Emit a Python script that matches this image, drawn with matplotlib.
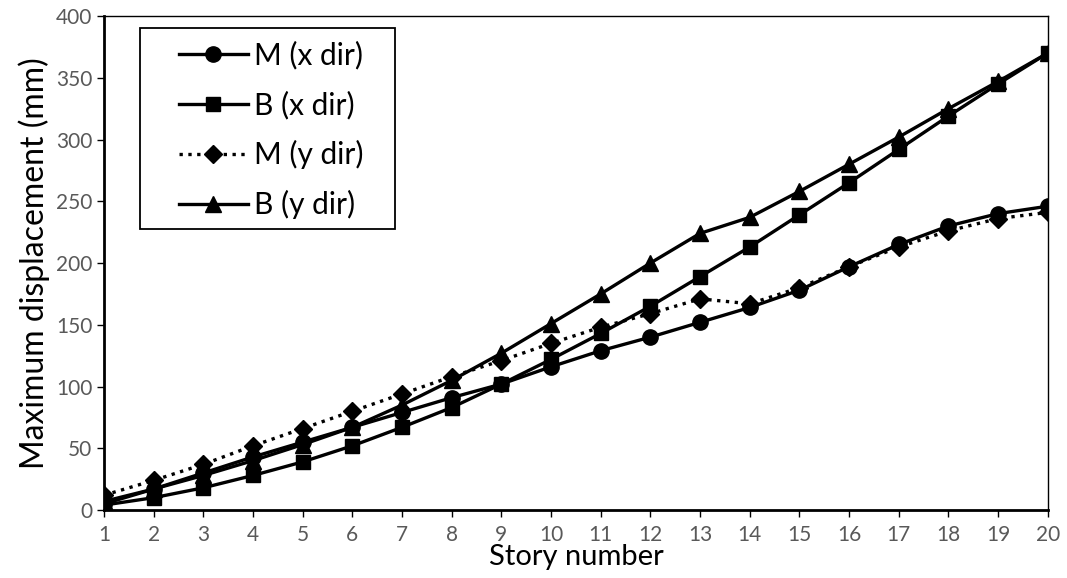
import matplotlib
matplotlib.use("Agg")
import matplotlib.pyplot as plt
from matplotlib.patches import Rectangle

stories = list(range(1, 21))
m_x = [5, 17, 30, 43, 55, 67, 79, 91, 102, 116, 129, 140, 152, 164, 178, 197, 215, 230, 240, 246]
b_x = [4, 10, 18, 28, 39, 52, 67, 83, 102, 122, 143, 165, 189, 213, 239, 265, 292, 319, 345, 370]
m_y = [12, 24, 37, 52, 66, 80, 94, 108, 121, 135, 148, 159, 171, 167, 180, 197, 213, 226, 236, 241]
b_y = [7, 17, 28, 40, 53, 67, 85, 105, 127, 151, 175, 200, 224, 237, 258, 280, 302, 325, 347, 370]
labels = ["M (x dir)", "B (x dir)", "M (y dir)", "B (y dir)"]

plt.rcParams['font.family'] = ['Lato', 'DejaVu Sans']

fig = plt.figure(figsize=(10.67, 5.78), dpi=100)
ax = fig.add_axes([0.0975, 0.1176, 0.8845, 0.8547])

lw = 2.4
ax.plot(stories, m_x, '-', color='black', lw=lw, marker='o', ms=11, label=labels[0])
ax.plot(stories, b_x, '-', color='black', lw=lw, marker='s', ms=10, label=labels[1])
ax.plot(stories, m_y, ':', color='black', lw=lw, marker='D', ms=9.5, label=labels[2])
ax.plot(stories, b_y, '-', color='black', lw=lw, marker='^', ms=11, label=labels[3])

ax.set_xlim(1, 20)
ax.set_ylim(0, 400)
ax.set_xticks(stories)
ax.set_yticks(range(0, 401, 50))
ax.tick_params(axis='both', colors='black', labelcolor='#595959', labelsize=15,
               direction='out', length=5, width=1)
ax.tick_params(axis='x', pad=6)

for side in ['left', 'bottom']:
    ax.spines[side].set_linewidth(2)
for side in ['top', 'right']:
    ax.spines[side].set_linewidth(1)

ax.set_xlabel("Story number", fontsize=21, labelpad=-1)
ax.set_ylabel("Maximum displacement (mm)", fontsize=23, labelpad=4)

# legend entries without frame, boxed by a separate rectangle
leg = ax.legend(loc='upper left', bbox_to_anchor=(0.0795, 0.949), fontsize=21.5,
                frameon=False, handlelength=2.3, handletextpad=0.2,
                labelspacing=0.7, borderpad=0.0, borderaxespad=0.0)
ax.add_patch(Rectangle((0.038, 0.5688), 0.270, 0.4069, transform=ax.transAxes,
                       fill=False, edgecolor='black', lw=1.3, zorder=5,
                       clip_on=False))

fig.savefig("out.png", dpi=100)
